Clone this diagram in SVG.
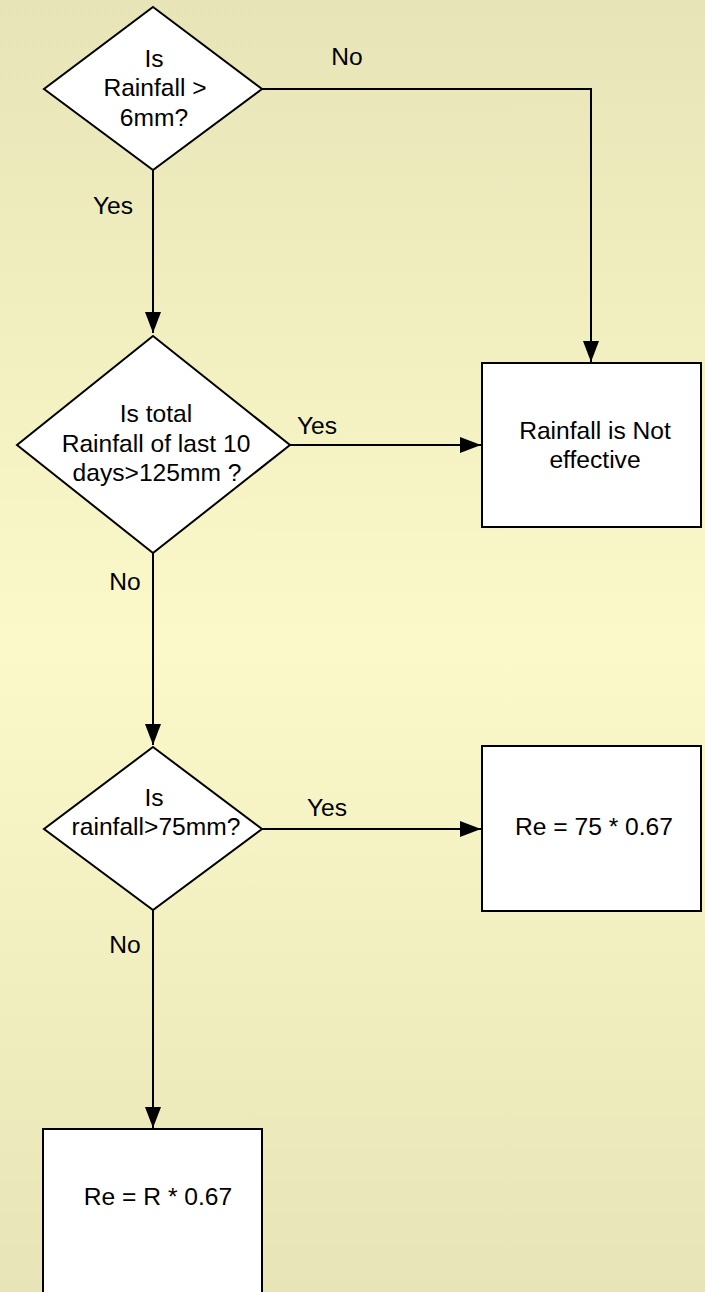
<svg xmlns="http://www.w3.org/2000/svg" width="705" height="1292" viewBox="0 0 705 1292">
<defs>
<linearGradient id="bg" x1="0" y1="0" x2="0" y2="1">
<stop offset="0" stop-color="#E7E5B7"/>
<stop offset="0.5" stop-color="#FBF9C9"/>
<stop offset="1" stop-color="#E7E5B7"/>
</linearGradient>
<marker id="arr" markerUnits="userSpaceOnUse" markerWidth="24" markerHeight="18" refX="21" refY="8" orient="auto">
<path d="M0,0 L21,8 L0,16 z" fill="#000"/>
</marker>
<style>
.shape{fill:#fff;stroke:#000;stroke-width:2}
.conn{fill:none;stroke:#000;stroke-width:2;marker-end:url(#arr)}
text{font-family:"Liberation Sans",Arial,sans-serif;font-size:24.6px;fill:#000;text-anchor:middle}
</style>
</defs>
<rect x="0" y="0" width="705" height="1292" fill="url(#bg)"/>
<g id="connectors">
<path class="conn" d="M153,170 L153,333"/>
<path class="conn" d="M262,89 L591,89 L591,362"/>
<path class="conn" d="M290,445 L481,445"/>
<path class="conn" d="M153,553 L153,745"/>
<path class="conn" d="M262,829 L481,829"/>
<path class="conn" d="M153,910 L153,1128"/>
<text x="347" y="65">No</text>
<text x="113" y="214">Yes</text>
<text x="317" y="434">Yes</text>
<text x="125" y="590">No</text>
<text x="327" y="816">Yes</text>
<text x="125" y="953">No</text>
</g>
<g id="d1">
<polygon class="shape" points="153,7 262,89 153,170 44,89"/>
<text x="154" y="67">Is</text>
<text x="155" y="96">Rainfall &gt;</text>
<text x="154" y="126">6mm?</text>
</g>
<g id="d2">
<polygon class="shape" points="153,336 290,445 153,553 17,445"/>
<text x="156" y="422">Is total</text>
<text x="156" y="452">Rainfall of last 10</text>
<text x="157" y="481">days&gt;125mm ?</text>
</g>
<g id="box-not-effective">
<rect class="shape" x="482" y="363" width="219" height="164"/>
<text x="595" y="439">Rainfall is Not</text>
<text x="595" y="468">effective</text>
</g>
<g id="d3">
<polygon class="shape" points="153,747 262,829 153,910 44,829"/>
<text x="154" y="806">Is</text>
<text x="156" y="835">rainfall&gt;75mm?</text>
</g>
<g id="box-re75">
<rect class="shape" x="482" y="746" width="219" height="165"/>
<text x="594" y="835">Re = 75 * 0.67</text>
</g>
<g id="box-reR">
<rect class="shape" x="43" y="1129" width="219" height="175"/>
<text x="158" y="1205">Re = R * 0.67</text>
</g>
</svg>
